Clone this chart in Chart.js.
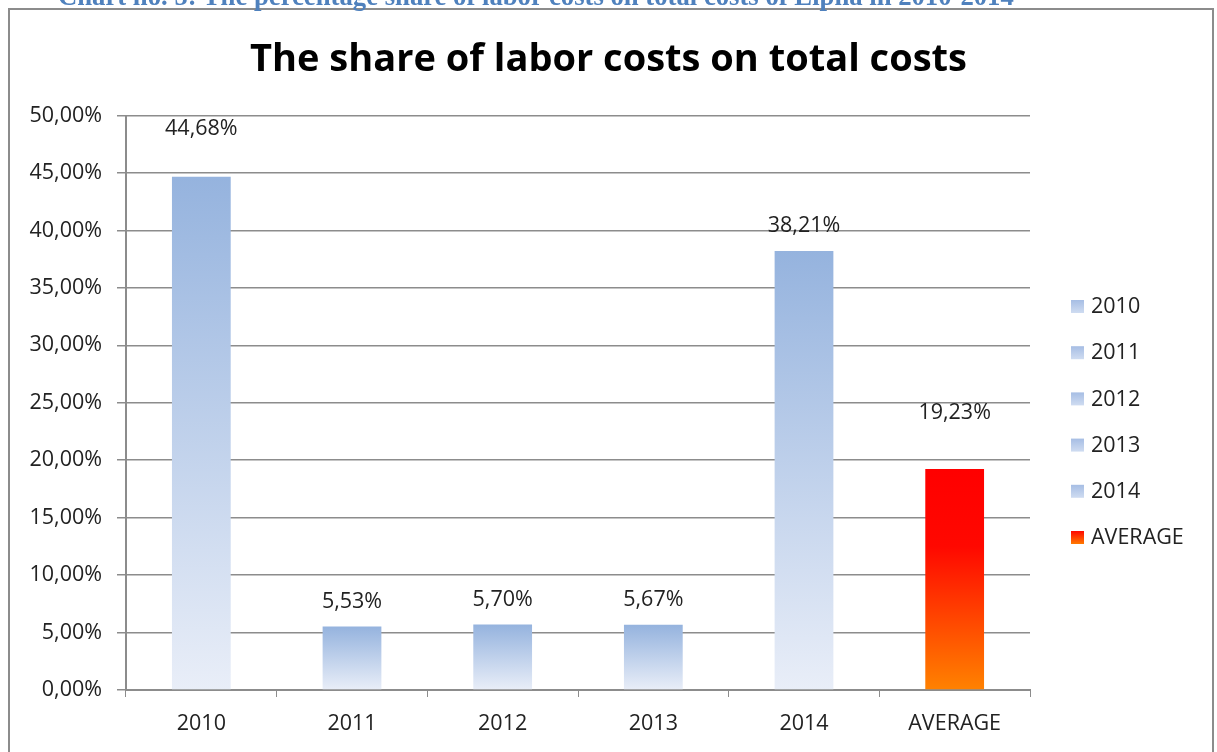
<!DOCTYPE html>
<html lang="en">
<head>
  <meta charset="UTF-8">
  <title>The share of labor costs on total costs</title>
  <script src="https://cdn.jsdelivr.net/npm/chart.js"></script>
  <style>
    body {
      margin: 0;
      width: 1217px;
      height: 752px;
      overflow: hidden;
      background: #fff;
      position: relative;
    }
    .caption {
      position: absolute;
      left: 58px;
      top: -17px;
      font-family: 'Liberation Serif', 'Times New Roman', serif;
      font-weight: bold;
      font-size: 26.7px;
      line-height: 27px;
      color: #4f81bd;
      white-space: nowrap;
      z-index: 2;
    }
    .frame {
      position: absolute;
      left: 8px;
      top: 8px;
      width: 1202px;
      height: 760px;
      border: 2px solid #8c8c8c;
      z-index: 1;
    }
    canvas {
      position: absolute;
      left: 0;
      top: 0;
    }
  </style>
</head>
<body>
  <div class="caption">Chart no. 5: The percentage share of labor costs on total costs of Elpha in 2010-2014</div>
  <div class="frame"></div>
  <canvas id="laborChart" width="1217" height="752"></canvas>

  <script>
    const years = ['2010', '2011', '2012', '2013', '2014', 'AVERAGE'];
    const laborShare = [44.68, 5.53, 5.70, 5.67, 38.21, 19.23];
    const yTicks = [0, 5, 10, 15, 20, 25, 30, 35, 40, 45, 50];
    // how far each value label sits above its bar, px
    const labelLift = [48, 25, 25, 25, 25, 56];

    const FONT = "'Open Sans', 'DejaVu Sans', sans-serif";
    const TEXT_SIZE = 21.5;

    const fmt = v => v.toFixed(2).replace('.', ',') + '%';

    function barFill(ctx) {
      const chart = ctx.chart;
      const area = chart.chartArea;
      const i = ctx.dataIndex;
      const avg = years[i] === 'AVERAGE';
      if (!area || !chart.scales.y) return avg ? '#ff2000' : '#a9c0e6';
      const y = chart.scales.y;
      const top = y.getPixelForValue(laborShare[i]);
      const bottom = y.getPixelForValue(0);
      const g = chart.ctx.createLinearGradient(0, top, 0, bottom);
      if (avg) {
        g.addColorStop(0, '#ff0000');
        g.addColorStop(0.35, '#ff0800');
        g.addColorStop(1, '#ff8200');
      } else {
        g.addColorStop(0, '#95b3de');
        g.addColorStop(1, '#e9eef8');
      }
      return g;
    }

    // value labels above the bars
    const valueLabels = {
      id: 'valueLabels',
      afterDatasetsDraw(chart) {
        const c = chart.ctx;
        const meta = chart.getDatasetMeta(0);
        c.save();
        c.font = TEXT_SIZE + 'px ' + FONT;
        c.fillStyle = '#222';
        c.textAlign = 'center';
        c.textBaseline = 'middle';
        meta.data.forEach((bar, i) => {
          c.fillText(fmt(laborShare[i]), bar.x, bar.y - labelLift[i]);
        });
        c.restore();
      }
    };

    // vertical legend on the right
    const sideLegend = {
      id: 'sideLegend',
      afterDraw(chart) {
        const c = chart.ctx;
        const x = chart.chartArea.right + 41;
        let y = 306;
        c.save();
        c.font = TEXT_SIZE + 'px ' + FONT;
        c.textBaseline = 'middle';
        years.forEach((name, i) => {
          const avg = name === 'AVERAGE';
          const g = c.createLinearGradient(0, y - 7, 0, y + 7);
          g.addColorStop(0, avg ? '#ff0000' : '#a3bbe3');
          g.addColorStop(1, avg ? '#ff7a00' : '#cfdcf1');
          c.fillStyle = g;
          c.fillRect(x, y - 6, 13, 13);
          c.fillStyle = '#222';
          c.fillText(name, x + 20, y + 1);
          y += 46.2;
        });
        c.restore();
      }
    };

    new Chart(document.getElementById('laborChart'), {
      type: 'bar',
      data: {
        labels: years,
        datasets: [{
          data: laborShare,
          backgroundColor: barFill,
          barPercentage: 0.39,
          categoryPercentage: 1
        }]
      },
      options: {
        responsive: false,
        animation: false,
        layout: { padding: 0 },
        plugins: {
          legend: { display: false },
          tooltip: { enabled: false },
          title: {
            display: true,
            text: 'The share of labor costs on total costs',
            color: '#000',
            font: { family: "'Open Sans', sans-serif", size: 38, weight: 'bold', lineHeight: 1.2 },
            padding: { top: 37, bottom: 33 }
          }
        },
        scales: {
          x: {
            afterFit: s => { s.height = 62; },
            grid: {
              offset: true,
              drawOnChartArea: false,
              drawTicks: true,
              tickLength: 7,
              color: '#8c8c8c'
            },
            border: { color: '#8c8c8c', width: 2 },
            ticks: {
              color: '#222',
              padding: 14,
              font: { family: FONT, size: TEXT_SIZE }
            }
          },
          y: {
            min: 0,
            max: 50,
            afterFit: s => { s.width = 126; },
            afterBuildTicks: s => { s.ticks = yTicks.map(v => ({ value: v })); },
            grid: {
              color: '#8c8c8c',
              lineWidth: 1.5,
              tickLength: 9
            },
            border: { color: '#8c8c8c', width: 2 },
            ticks: {
              color: '#222',
              padding: 15,
              font: { family: FONT, size: TEXT_SIZE },
              callback: v => fmt(v)
            }
          },
          // empty strip on the right that holds the legend
          legendSpace: {
            type: 'linear',
            position: 'right',
            display: true,
            afterFit: s => { s.width = 187; },
            grid: { display: false, drawTicks: false },
            border: { display: false },
            ticks: { display: false }
          }
        }
      },
      plugins: [valueLabels, sideLegend]
    });
  </script>
</body>
</html>
